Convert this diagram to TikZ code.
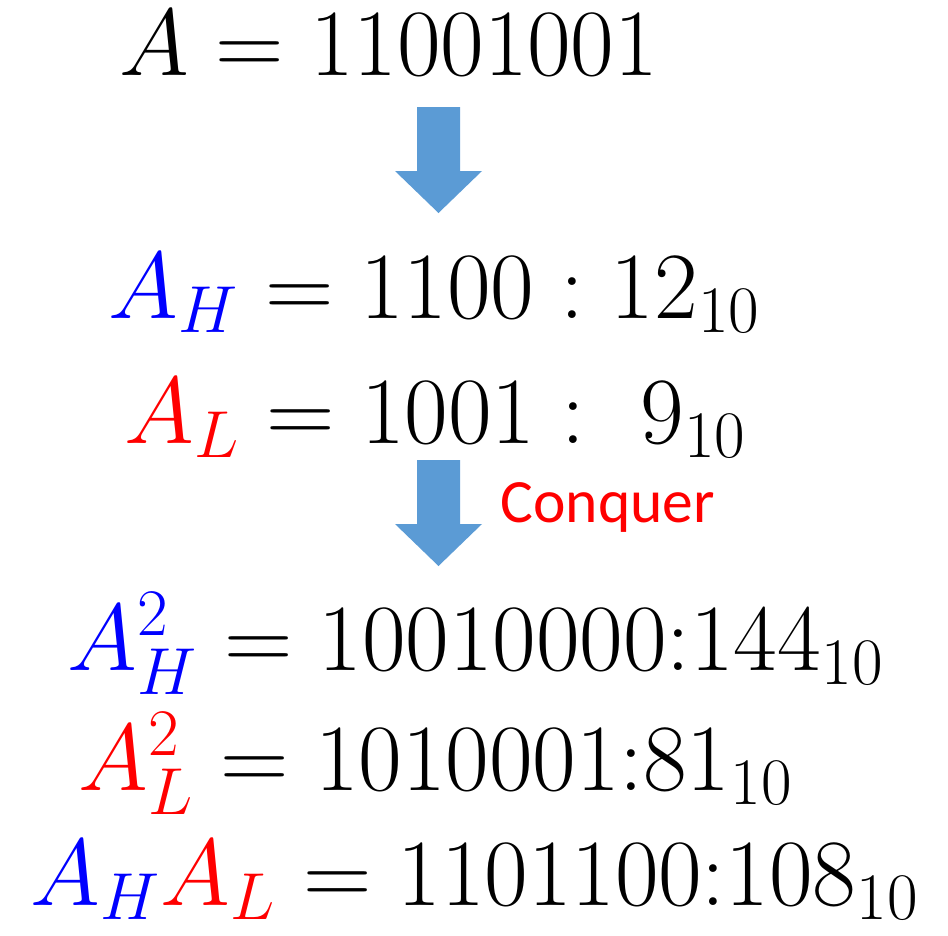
\RequirePackage{fix-cm}
\documentclass[tikz,border=0pt]{standalone}
\usepackage{amsmath}
\usepackage{fontspec}
\newfontfamily\labelfont{Carlito}
\usepackage{xcolor}
\definecolor{arrowblue}{HTML}{5B9BD5}
\usetikzlibrary{positioning}

\newcommand{\AH}{{\color{blue}A_H}}
\newcommand{\AL}{{\color{red}A_L}}

\begin{document}
\begin{tikzpicture}[x=0.01cm, y=-0.01cm,
  eqline/.style={anchor=base, inner sep=0pt, font=\fontsize{27}{32}\selectfont}]
  \useasboundingbox (0,0) rectangle (948,936);

  % split step
  \node[eqline] (orig) at (389,75) {$A = 11001001$};
  \node[eqline] (high) at (435,318) {$\AH = 1100 : 12_{10}$};
  \node[eqline] (low)  at (436,443) {$\AL = 1001 :\ 9_{10}$};

  % block arrows
  \foreach \ytop in {107,460} {
    \fill[arrowblue] (417,\ytop) -- (460,\ytop) -- (460,\ytop+64) -- (482,\ytop+64)
      -- (438.5,\ytop+106) -- (395,\ytop+64) -- (417,\ytop+64) -- cycle;
  }
  \node[anchor=base west, inner sep=0pt, text=red, font=\labelfont\fontsize{17.5}{21}\selectfont]
    (conquer) at (500,522) {Conquer};

  % conquer step
  \node[eqline] (highsq) at (476,670) {${\color{blue}A_H^2} = 10010000{:}144_{10}$};
  \node[eqline] (lowsq)  at (436,790) {${\color{red}A_L^2} = 1010001{:}81_{10}$};
  \node[eqline] (cross)  at (475,905) {$\AH\AL = 1101100{:}108_{10}$};
\end{tikzpicture}
\end{document}
